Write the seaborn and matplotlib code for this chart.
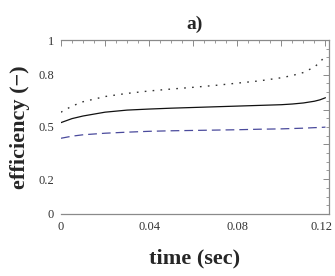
import numpy as np
import pandas as pd
import matplotlib
matplotlib.use("Agg")
from matplotlib import pyplot as plt
from matplotlib.ticker import MultipleLocator, FixedLocator
from matplotlib.transforms import ScaledTranslation
import seaborn as sns

# values
time_sec = [0, 0.005, 0.01, 0.02, 0.03, 0.04, 0.05, 0.06, 0.07, 0.08,
            0.09, 0.10, 0.105, 0.11, 0.115, 0.1175, 0.12]
eff_dotted = [0.585, 0.62, 0.645, 0.675, 0.693, 0.707, 0.718, 0.728, 0.739, 0.752,
              0.765, 0.783, 0.796, 0.813, 0.845, 0.872, 0.91]
eff_solid = [0.525, 0.548, 0.563, 0.585, 0.597, 0.603, 0.608, 0.612, 0.616, 0.62,
             0.624, 0.628, 0.632, 0.638, 0.648, 0.656, 0.668]
eff_dashed = [0.435, 0.447, 0.455, 0.464, 0.47, 0.475, 0.478, 0.48, 0.482, 0.484,
              0.487, 0.489, 0.491, 0.493, 0.496, 0.497, 0.499]
x_ticks = [0, 0.04, 0.08, 0.12]
x_tick_labels = ["0", "0.04", "0.08", "0.12"]
y_ticks = [0, 0.2, 0.5, 0.8, 1]
y_tick_labels = ["0", "0.2", "0.5", "0.8", "1"]

df = pd.DataFrame({"t": time_sec, "dotted": eff_dotted,
                   "solid": eff_solid, "dashed": eff_dashed})

sns.set_theme(style="white")
plt.rcParams["font.family"] = ["Liberation Serif", "DejaVu Serif"]

fig = plt.figure(figsize=(3.35, 2.76), dpi=100)
ax = fig.add_axes([0.182, 0.225, 0.800, 0.630])

# three efficiency curves
sns.lineplot(x="t", y="dotted", data=df, ax=ax, color="#333333",
             linewidth=1.0, linestyle=(0, (1.2, 4.5)))
sns.lineplot(x="t", y="solid", data=df, ax=ax, color="#111111", linewidth=0.9)
sns.lineplot(x="t", y="dashed", data=df, ax=ax, color="#4a4a9c",
             linewidth=0.9, linestyle=(0, (7, 4)))

ax.set_xlim(0, 0.1216)
ax.set_ylim(0, 1)

spine_col = "#8a8a8a"
ax.spines["left"].set_visible(False)
for s in ["top", "right", "bottom"]:
    ax.spines[s].set_color(spine_col)
    ax.spines[s].set_linewidth(0.9)

ax.set_xticks(x_ticks)
ax.set_xticklabels(x_tick_labels)
ax.set_yticks(y_ticks)
ax.set_yticklabels(y_tick_labels)
ax.tick_params(axis="x", direction="in", length=3, width=0.7, color=spine_col,
               labelsize=9, labelcolor="#333333", pad=5)
ax.tick_params(axis="y", direction="out", length=3, width=0.7, color=spine_col,
               labelsize=9, labelcolor="#333333", pad=2)

# the last x label sits against the right edge, nudge it in a little
last = ax.get_xticklabels()[-1]
last.set_transform(last.get_transform() + ScaledTranslation(-2.5 / 72, 0, fig.dpi_scale_trans))

# frame ticks on top and right, like the original
top = ax.secondary_xaxis("top")
top.xaxis.set_major_locator(MultipleLocator(0.02))
top.xaxis.set_minor_locator(MultipleLocator(0.005))
top.tick_params(which="major", direction="in", length=4, width=0.7, color=spine_col,
                labeltop=False)
top.tick_params(which="minor", direction="in", length=2.5, width=0.6, color=spine_col)
top.spines["top"].set_visible(False)

right = ax.secondary_yaxis("right")
right.yaxis.set_major_locator(FixedLocator([0.2, 0.4, 0.6, 0.8]))
right.yaxis.set_minor_locator(MultipleLocator(0.05))
right.tick_params(which="major", direction="in", length=4, width=0.7, color=spine_col,
                  labelright=False)
right.tick_params(which="minor", direction="in", length=2.5, width=0.6, color=spine_col)
right.spines["right"].set_visible(False)

ax.set_title("a)", fontsize=14, fontweight="bold", pad=8)
ax.set_xlabel("time (sec)", fontsize=16, fontweight="bold", labelpad=11)
ax.set_ylabel("efficiency (\u2212)", fontsize=16, fontweight="bold", labelpad=6)

fig.savefig("out.png", dpi=100)
